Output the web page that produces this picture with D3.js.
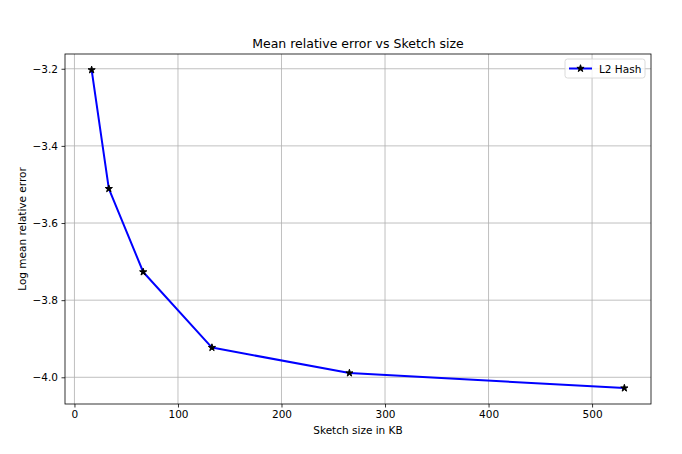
<!DOCTYPE html>
<html>
<head>
<meta charset="utf-8">
<script src="https://cdn.jsdelivr.net/npm/d3@7"></script>
<style>
  html, body { margin: 0; padding: 0; background: #fff; }
  svg { display: block; font-family: "DejaVu Sans", sans-serif; }
</style>
</head>
<body>
<div id="chart"></div>
<script>
// Mean relative error vs sketch size: a single matplotlib-style line with star markers.

const sizesKB = [16.6, 33.2, 66.4, 132.8, 265.6, 531.2];
const logErr = [-3.203, -3.511, -3.727, -3.923, -3.989, -4.028];
const xTicks = [0, 100, 200, 300, 400, 500];
const yTicks = [-3.2, -3.4, -3.6, -3.8, -4.0];
const seriesName = 'L2 Hash';

const W = 682, H = 454;
const margin = { top: 54, right: 31, bottom: 50, left: 65 };
const innerW = W - margin.left - margin.right;
const innerH = H - margin.top - margin.bottom;

const points = sizesKB.map((x, i) => ({ x, y: logErr[i] }));

// matplotlib default 5% padding on each side
function padded(ext) {
  const p = (ext[1] - ext[0]) * 0.05;
  return [ext[0] - p, ext[1] + p];
}

const x = d3.scaleLinear().domain(padded(d3.extent(sizesKB))).range([0, innerW]);
const y = d3.scaleLinear().domain(padded(d3.extent(logErr))).range([innerH, 0]);

const svg = d3.select('#chart').append('svg').attr('width', W).attr('height', H);
const g = svg.append('g').attr('transform', `translate(${margin.left},${margin.top})`);

const fmtY = (d) => d3.format('.1f')(d).replace('-', '\u2212');

// grid
g.append('g').selectAll('line').data(xTicks).join('line')
  .attr('x1', (d) => x(d)).attr('x2', (d) => x(d)).attr('y1', 0).attr('y2', innerH)
  .attr('stroke', '#b0b0b0').attr('stroke-width', 0.8);
g.append('g').selectAll('line').data(yTicks).join('line')
  .attr('x1', 0).attr('x2', innerW).attr('y1', (d) => y(d)).attr('y2', (d) => y(d))
  .attr('stroke', '#b0b0b0').attr('stroke-width', 0.8);

// axes
const xAxis = g.append('g').attr('transform', `translate(0,${innerH})`)
  .call(d3.axisBottom(x).tickValues(xTicks).tickSize(3.5).tickPadding(3.5).tickFormat(d3.format('d')));
const yAxis = g.append('g')
  .call(d3.axisLeft(y).tickValues(yTicks).tickSize(3.5).tickPadding(3.5).tickFormat(fmtY));
[xAxis, yAxis].forEach((ax) => {
  ax.select('.domain').remove();
  ax.selectAll('line').attr('stroke', '#000').attr('stroke-width', 0.8);
  ax.selectAll('text').attr('fill', '#000').style('font-size', '10.5px').style('font-family', '"DejaVu Sans", sans-serif');
});

// frame
g.append('rect').attr('width', innerW).attr('height', innerH)
  .attr('fill', 'none').attr('stroke', '#000').attr('stroke-width', 0.8);

// line
g.append('path').datum(points)
  .attr('d', d3.line().x((d) => x(d.x)).y((d) => y(d.y)))
  .attr('fill', 'none').attr('stroke', '#0000ff').attr('stroke-width', 2).attr('stroke-linejoin', 'round');

const star = d3.symbol().type(d3.symbolStar).size(16);
g.append('g').selectAll('path').data(points).join('path')
  .attr('transform', (d) => `translate(${x(d.x)},${y(d.y)})`)
  .attr('d', star).attr('fill', '#000').attr('stroke', '#000').attr('stroke-width', 1);

// title and labels
svg.append('text').attr('x', margin.left + innerW / 2).attr('y', 48)
  .attr('text-anchor', 'middle').style('font-size', '12.5px').text('Mean relative error vs Sketch size');
svg.append('text').attr('x', margin.left + innerW / 2).attr('y', 434)
  .attr('text-anchor', 'middle').style('font-size', '10.5px').text('Sketch size in KB');
svg.append('text').attr('transform', `translate(26,${margin.top + innerH / 2}) rotate(-90)`)
  .attr('text-anchor', 'middle').style('font-size', '10.5px').text('Log mean relative error');

// legend
const lg = g.append('g').attr('transform', `translate(${innerW - 86},5)`);
lg.append('rect').attr('width', 80).attr('height', 19).attr('rx', 2.5)
  .attr('fill', 'rgba(255,255,255,0.8)').attr('stroke', '#d0d0d0').attr('stroke-width', 0.8);
lg.append('line').attr('x1', 4).attr('x2', 27).attr('y1', 9.5).attr('y2', 9.5)
  .attr('stroke', '#0000ff').attr('stroke-width', 2);
lg.append('path').attr('transform', 'translate(15.5,9.5)').attr('d', star)
  .attr('fill', '#000').attr('stroke', '#000').attr('stroke-width', 1);
lg.append('text').attr('x', 34).attr('y', 13.5).style('font-size', '10.5px').text(seriesName);
</script>
</body>
</html>
